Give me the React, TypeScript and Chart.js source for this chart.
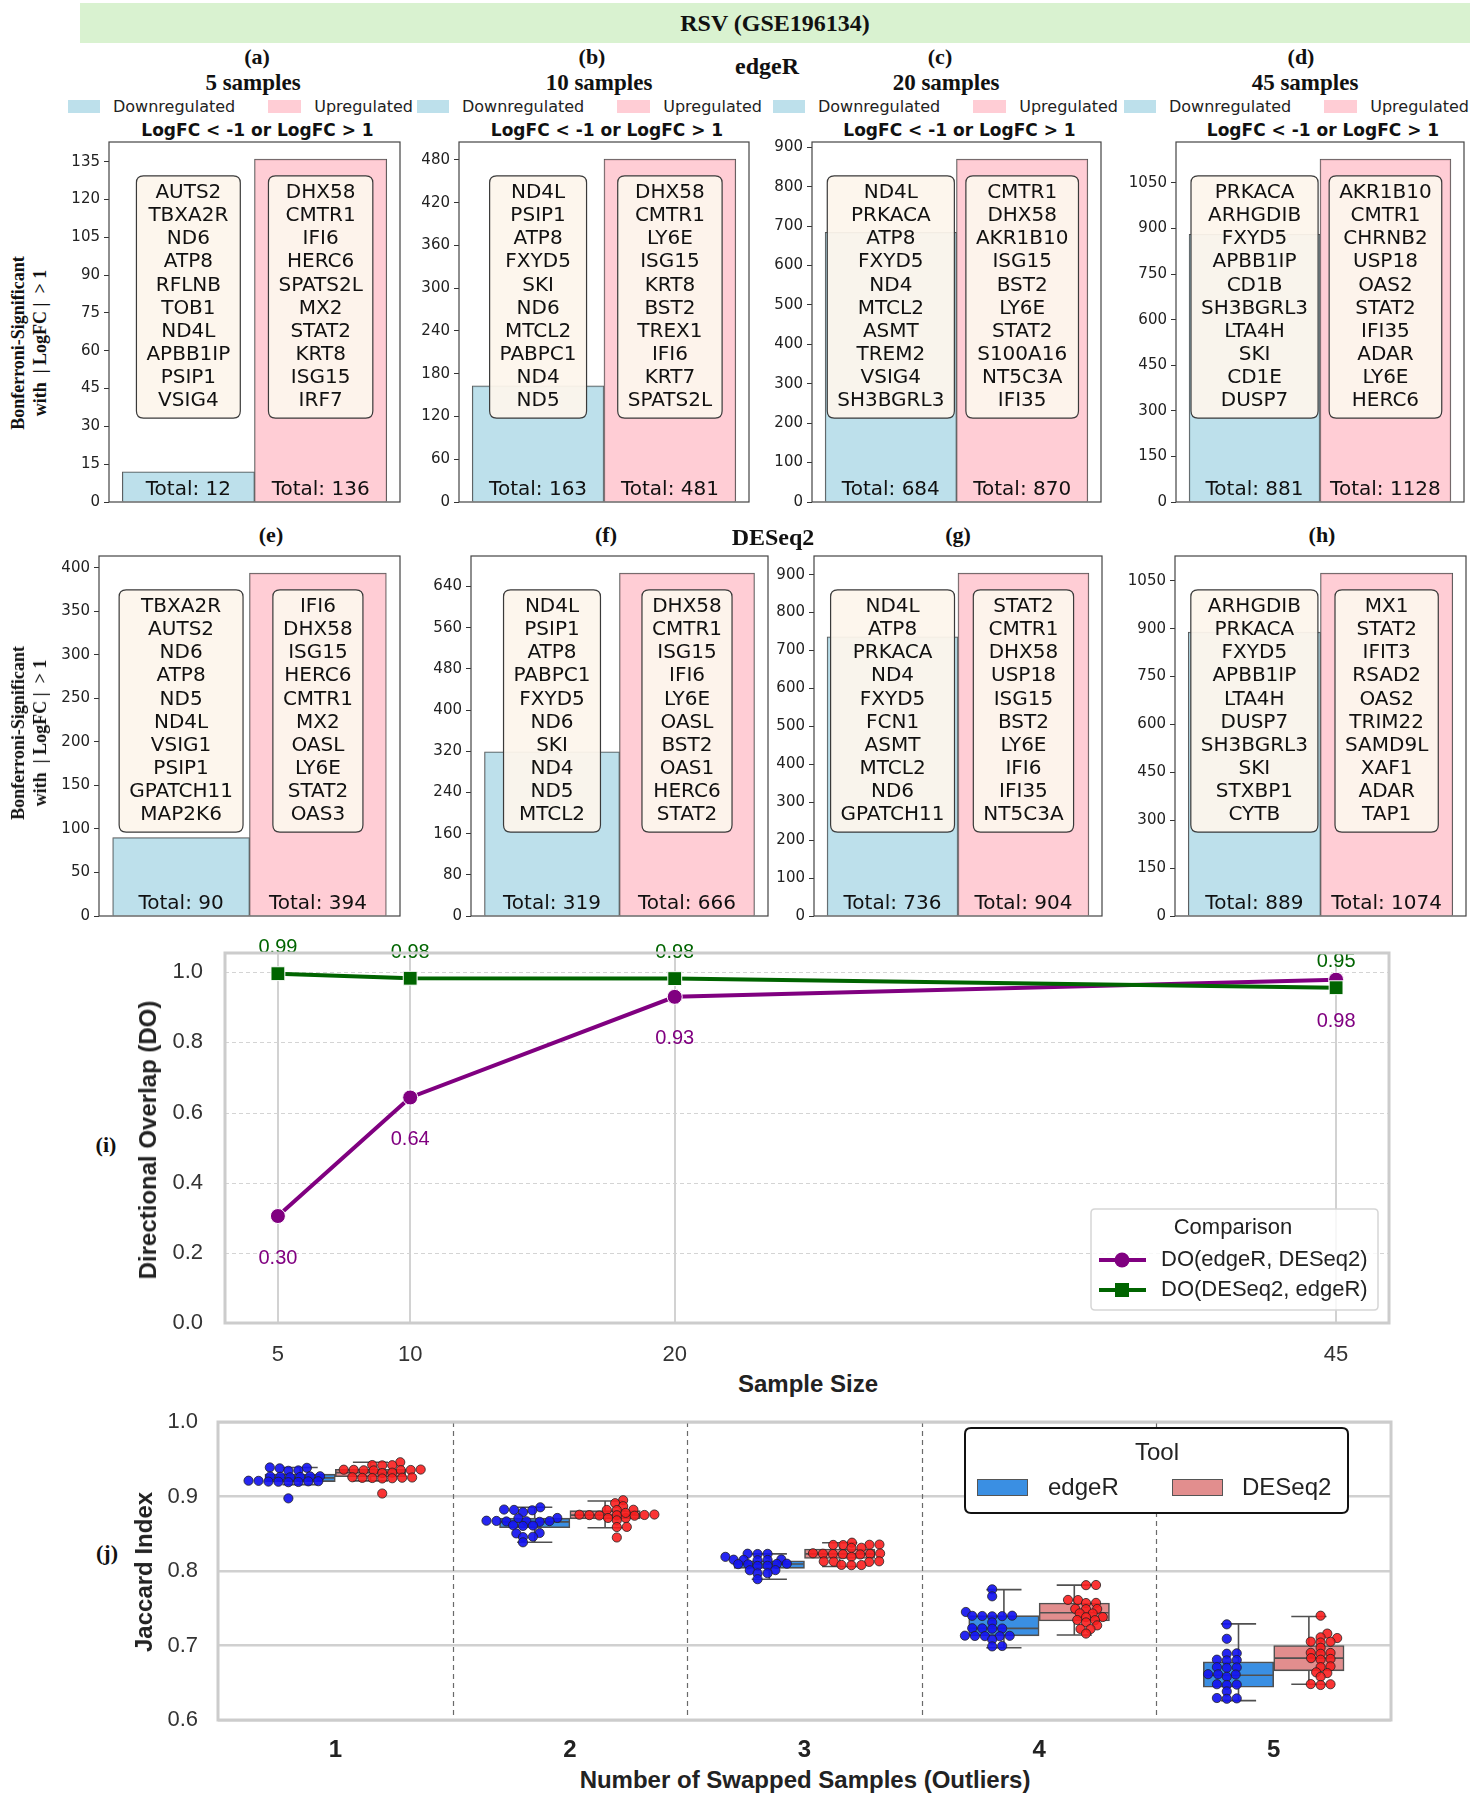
import React, { useEffect, useRef } from 'react';
import { Chart, registerables } from 'chart.js';

Chart.register(...registerables);

// ---------------- DATA: panels (a)-(h) ----------------
const panelLetters = ['(a)', '(b)', '(c)', '(d)', '(e)', '(f)', '(g)', '(h)'];
const sampleTitles = ['5 samples', '10 samples', '20 samples', '45 samples'];
const edgeRDownTotals = [12, 163, 684, 881];
const edgeRUpTotals = [136, 481, 870, 1128];
const deseq2DownTotals = [90, 319, 736, 889];
const deseq2UpTotals = [394, 666, 904, 1074];

const ticksA = [0, 15, 30, 45, 60, 75, 90, 105, 120, 135];
const ticksB = [0, 60, 120, 180, 240, 300, 360, 420, 480];
const ticksC = [0, 100, 200, 300, 400, 500, 600, 700, 800, 900];
const ticksD = [0, 150, 300, 450, 600, 750, 900, 1050];
const ticksE = [0, 50, 100, 150, 200, 250, 300, 350, 400];
const ticksF = [0, 80, 160, 240, 320, 400, 480, 560, 640];
const ticksG = [0, 100, 200, 300, 400, 500, 600, 700, 800, 900];
const ticksH = [0, 150, 300, 450, 600, 750, 900, 1050];

const downGenesA = ['AUTS2', 'TBXA2R', 'ND6', 'ATP8', 'RFLNB', 'TOB1', 'ND4L', 'APBB1IP', 'PSIP1', 'VSIG4'];
const upGenesA = ['DHX58', 'CMTR1', 'IFI6', 'HERC6', 'SPATS2L', 'MX2', 'STAT2', 'KRT8', 'ISG15', 'IRF7'];
const downGenesB = ['ND4L', 'PSIP1', 'ATP8', 'FXYD5', 'SKI', 'ND6', 'MTCL2', 'PABPC1', 'ND4', 'ND5'];
const upGenesB = ['DHX58', 'CMTR1', 'LY6E', 'ISG15', 'KRT8', 'BST2', 'TREX1', 'IFI6', 'KRT7', 'SPATS2L'];
const downGenesC = ['ND4L', 'PRKACA', 'ATP8', 'FXYD5', 'ND4', 'MTCL2', 'ASMT', 'TREM2', 'VSIG4', 'SH3BGRL3'];
const upGenesC = ['CMTR1', 'DHX58', 'AKR1B10', 'ISG15', 'BST2', 'LY6E', 'STAT2', 'S100A16', 'NT5C3A', 'IFI35'];
const downGenesD = ['PRKACA', 'ARHGDIB', 'FXYD5', 'APBB1IP', 'CD1B', 'SH3BGRL3', 'LTA4H', 'SKI', 'CD1E', 'DUSP7'];
const upGenesD = ['AKR1B10', 'CMTR1', 'CHRNB2', 'USP18', 'OAS2', 'STAT2', 'IFI35', 'ADAR', 'LY6E', 'HERC6'];
const downGenesE = ['TBXA2R', 'AUTS2', 'ND6', 'ATP8', 'ND5', 'ND4L', 'VSIG1', 'PSIP1', 'GPATCH11', 'MAP2K6'];
const upGenesE = ['IFI6', 'DHX58', 'ISG15', 'HERC6', 'CMTR1', 'MX2', 'OASL', 'LY6E', 'STAT2', 'OAS3'];
const downGenesF = ['ND4L', 'PSIP1', 'ATP8', 'PABPC1', 'FXYD5', 'ND6', 'SKI', 'ND4', 'ND5', 'MTCL2'];
const upGenesF = ['DHX58', 'CMTR1', 'ISG15', 'IFI6', 'LY6E', 'OASL', 'BST2', 'OAS1', 'HERC6', 'STAT2'];
const downGenesG = ['ND4L', 'ATP8', 'PRKACA', 'ND4', 'FXYD5', 'FCN1', 'ASMT', 'MTCL2', 'ND6', 'GPATCH11'];
const upGenesG = ['STAT2', 'CMTR1', 'DHX58', 'USP18', 'ISG15', 'BST2', 'LY6E', 'IFI6', 'IFI35', 'NT5C3A'];
const downGenesH = ['ARHGDIB', 'PRKACA', 'FXYD5', 'APBB1IP', 'LTA4H', 'DUSP7', 'SH3BGRL3', 'SKI', 'STXBP1', 'CYTB'];
const upGenesH = ['MX1', 'STAT2', 'IFIT3', 'RSAD2', 'OAS2', 'TRIM22', 'SAMD9L', 'XAF1', 'ADAR', 'TAP1'];

// ---------------- DATA: panel (i) ----------------
const sampleSizes = [5, 10, 20, 45];
const doEdgeRvsDESeq2 = [0.305, 0.643, 0.93, 0.979];
const doEdgeRvsDESeq2Labels = ['0.30', '0.64', '0.93', '0.98'];
const doDESeq2vsEdgeR = [0.996, 0.983, 0.982, 0.956];
const doDESeq2vsEdgeRLabels = ['0.99', '0.98', '0.98', '0.95'];
const doYTicks = [0, 0.2, 0.4, 0.6, 0.8, 1.0];
const doYTickLabels = ['0.0', '0.2', '0.4', '0.6', '0.8', '1.0'];

// ---------------- DATA: panel (j) ----------------
const swapCounts = [1, 2, 3, 4, 5];
const jacYTicks = [0.6, 0.7, 0.8, 0.9, 1.0];
const jacYTickLabels = ['0.6', '0.7', '0.8', '0.9', '1.0'];

const edgeRBoxLow = [0.916, 0.8385, 0.789, 0.697, 0.626];
const edgeRBoxQ1 = [0.92, 0.858, 0.8036, 0.713, 0.644];
const edgeRBoxMedian = [0.925, 0.866, 0.8094, 0.723, 0.66];
const edgeRBoxQ3 = [0.93, 0.871, 0.8138, 0.74, 0.678];
const edgeRBoxHigh = [0.939, 0.8855, 0.823, 0.775, 0.729];

const deseq2BoxLow = [0.921, 0.858, 0.806, 0.714, 0.648];
const deseq2BoxQ1 = [0.9266, 0.87, 0.8168, 0.733, 0.666];
const deseq2BoxMedian = [0.932, 0.875, 0.823, 0.744, 0.683];
const deseq2BoxQ3 = [0.9365, 0.881, 0.8295, 0.757, 0.7];
const deseq2BoxHigh = [0.946, 0.894, 0.838, 0.781, 0.739];

const edgeRJac1 = [0.9385, 0.939, 0.9378, 0.935, 0.9345, 0.9272, 0.9268, 0.9265, 0.9262, 0.927, 0.9258, 0.9212, 0.9205, 0.92, 0.9195, 0.9203, 0.921, 0.9198, 0.9192, 0.8975];
const edgeRJac2 = [0.8855, 0.882, 0.8825, 0.8815, 0.879, 0.8712, 0.8708, 0.867, 0.8668, 0.8672, 0.8665, 0.8675, 0.866, 0.861, 0.8615, 0.8605, 0.851, 0.8505, 0.846, 0.8455, 0.8385];
const edgeRJac3 = [0.823, 0.8232, 0.8228, 0.819, 0.815, 0.8152, 0.8148, 0.8155, 0.8145, 0.8095, 0.8092, 0.8098, 0.809, 0.807, 0.8068, 0.801, 0.8012, 0.797, 0.7968, 0.789];
const edgeRJac4 = [0.7754, 0.766, 0.745, 0.7396, 0.7398, 0.7394, 0.7392, 0.74, 0.731, 0.723, 0.7232, 0.7228, 0.7225, 0.7128, 0.713, 0.7126, 0.7132, 0.7124, 0.708, 0.6993, 0.6988];
const edgeRJac5 = [0.7284, 0.709, 0.689, 0.6895, 0.6805, 0.681, 0.68, 0.6705, 0.671, 0.67, 0.6613, 0.661, 0.6615, 0.658, 0.6475, 0.648, 0.647, 0.6383, 0.629, 0.6295, 0.6285];

const deseq2Jac1 = [0.946, 0.942, 0.9422, 0.9418, 0.9356, 0.936, 0.9355, 0.9362, 0.9352, 0.9358, 0.935, 0.932, 0.9315, 0.925, 0.9252, 0.9248, 0.9245, 0.9255, 0.9242, 0.9258, 0.904];
const deseq2Jac2 = [0.895, 0.891, 0.887, 0.882, 0.8822, 0.8818, 0.875, 0.8752, 0.8748, 0.8755, 0.8745, 0.8758, 0.8742, 0.871, 0.8712, 0.868, 0.859, 0.8592, 0.845, 0.878];
const deseq2Jac3 = [0.838, 0.835, 0.8352, 0.8348, 0.8355, 0.831, 0.8312, 0.823, 0.8232, 0.8228, 0.8235, 0.8225, 0.8238, 0.8222, 0.819, 0.8125, 0.8128, 0.8122, 0.813, 0.808, 0.8082, 0.8078];
const deseq2Jac4 = [0.781, 0.7812, 0.761, 0.7612, 0.757, 0.7572, 0.749, 0.7492, 0.7488, 0.743, 0.7432, 0.738, 0.7382, 0.734, 0.7342, 0.731, 0.727, 0.722, 0.7222, 0.716];
const deseq2Jac5 = [0.74, 0.716, 0.711, 0.71, 0.705, 0.7052, 0.704, 0.697, 0.69, 0.6902, 0.689, 0.683, 0.682, 0.681, 0.672, 0.671, 0.664, 0.663, 0.658, 0.648, 0.6482, 0.647];

const edgeRJaccard = [edgeRJac1, edgeRJac2, edgeRJac3, edgeRJac4, edgeRJac5];
const deseq2Jaccard = [deseq2Jac1, deseq2Jac2, deseq2Jac3, deseq2Jac4, deseq2Jac5];

// ---------------- LAYOUT / STYLE ----------------
type Rect = { l: number; t: number; r: number; b: number };
const SERIF = '"Liberation Serif", "Times New Roman", serif';
const SANS = '"Liberation Sans", Arial, sans-serif';
const DJV = '"DejaVu Sans", sans-serif';

const topAreas: Rect[] = [
  { l: 109, t: 142, r: 400, b: 502 },
  { l: 459, t: 142, r: 749, b: 502 },
  { l: 812, t: 142, r: 1101, b: 502 },
  { l: 1176, t: 142, r: 1464, b: 502 },
];
const bottomAreas: Rect[] = [
  { l: 99, t: 556, r: 400, b: 916 },
  { l: 471, t: 556, r: 768, b: 916 },
  { l: 814, t: 556, r: 1102, b: 916 },
  { l: 1175, t: 556, r: 1466, b: 916 },
];
const barMargin: Rect = { l: 56, t: 14, r: 8, b: 14 };
const doArea: Rect = { l: 225, t: 953, r: 1389, b: 1323 };
const doMargin: Rect = { l: 80, t: 30, r: 14, b: 45 };
const jacArea: Rect = { l: 218, t: 1422, r: 1391, b: 1720 };
const jacMargin: Rect = { l: 80, t: 20, r: 14, b: 45 };

const DOWN_FILL = 'rgba(173,216,230,0.8)';
const UP_FILL = 'rgba(255,192,203,0.8)';
const PURPLE = '#800080';
const GREEN = '#006400';
const EDGER_BOX = '#3a8fe3';
const DESEQ_BOX = '#e28e8e';

function rr(ctx: any, x: number, y: number, w: number, h: number, r: number) {
  ctx.beginPath();
  ctx.moveTo(x + r, y);
  ctx.lineTo(x + w - r, y);
  ctx.quadraticCurveTo(x + w, y, x + w, y + r);
  ctx.lineTo(x + w, y + h - r);
  ctx.quadraticCurveTo(x + w, y + h, x + w - r, y + h);
  ctx.lineTo(x + r, y + h);
  ctx.quadraticCurveTo(x, y + h, x, y + h - r);
  ctx.lineTo(x, y + r);
  ctx.quadraticCurveTo(x, y, x + r, y);
  ctx.closePath();
}

// beeswarm offsets (seaborn-like), computed in pixel space of the original (taller) figure
const JX = (jacArea.r - jacArea.l) / 5;
const JY = ((jacArea.b - jacArea.t) / 0.4) * 2;
function swarmX(vals: number[], center: number, d: number): number[] {
  const order = vals.map((_, i) => i).sort((a, b) => vals[a] - vals[b]);
  const placed: { x: number; y: number }[] = [];
  const out: number[] = new Array(vals.length);
  for (const i of order) {
    const y = vals[i] * JY;
    const nb = placed.filter((p) => Math.abs(p.y - y) < d);
    const cands = [0];
    nb.forEach((n) => {
      const dx = Math.sqrt(d * d - (n.y - y) * (n.y - y));
      cands.push(n.x + dx, n.x - dx);
    });
    cands.sort((a, b) => Math.abs(a) - Math.abs(b));
    let chosen = 0;
    for (const c of cands) {
      if (nb.every((n) => (n.x - c) * (n.x - c) + (n.y - y) * (n.y - y) >= d * d - 0.01)) {
        chosen = c;
        break;
      }
    }
    placed.push({ x: chosen, y });
    out[i] = center + chosen / JX;
  }
  return out;
}

function ChartBox({ area, margin, make }: { area: Rect; margin: Rect; make: (c: HTMLCanvasElement) => any }) {
  const ref = useRef<HTMLCanvasElement>(null);
  const w = area.r - area.l + margin.l + margin.r;
  const h = area.b - area.t + margin.t + margin.b;
  useEffect(() => {
    if (!ref.current) return;
    const ch = make(ref.current);
    return () => ch.destroy();
  }, []);
  return (
    <canvas
      ref={ref}
      width={w}
      height={h}
      style={{ position: 'absolute', left: area.l - margin.l, top: area.t - margin.t, width: w, height: h }}
    />
  );
}

function makeBarPanel(canvas: HTMLCanvasElement, down: number, up: number, ticks: number[], downGenes: string[], upGenes: string[]) {
  const vals = [down, up];
  const ymax = Math.max(down, up) * 1.05;
  const overlay = {
    id: 'geneOverlay',
    afterDatasetsDraw(chart: any) {
      const { ctx, chartArea: a } = chart;
      const xs = chart.scales.x;
      const h = a.bottom - a.top;
      const bt = a.top + 0.094 * h;
      const bb = a.top + 0.767 * h;
      const bh = bb - bt;
      ctx.save();
      ctx.font = `20px ${DJV}`;
      ctx.textAlign = 'center';
      ctx.textBaseline = 'middle';
      [downGenes, upGenes].forEach((genes, i) => {
        const cx = xs.getPixelForValue(i);
        let tw = 0;
        genes.forEach((g) => (tw = Math.max(tw, ctx.measureText(g).width)));
        const bw = tw + 20;
        rr(ctx, cx - bw / 2, bt, bw, bh, 7);
        ctx.fillStyle = 'rgba(253,245,236,0.94)';
        ctx.fill();
        ctx.lineWidth = 1.2;
        ctx.strokeStyle = '#3a3a3a';
        ctx.stroke();
        ctx.fillStyle = '#111';
        genes.forEach((g, k) => ctx.fillText(g, cx, bt + (bh * (17 + 23.1 * k)) / 242));
        ctx.fillText('Total: ' + vals[i], cx, a.bottom - 12);
      });
      ctx.strokeStyle = '#444';
      ctx.lineWidth = 1.2;
      ctx.strokeRect(a.left, a.top, a.right - a.left, a.bottom - a.top);
      ctx.restore();
    },
  };
  return new Chart(canvas, {
    type: 'bar',
    data: {
      datasets: [
        {
          data: [
            { x: 0, y: down },
            { x: 1, y: up },
          ],
          backgroundColor: [DOWN_FILL, UP_FILL],
          borderColor: '#555',
          borderWidth: 1,
          barPercentage: 1,
          categoryPercentage: 1,
        } as any,
      ],
    },
    options: {
      responsive: false,
      animation: false,
      layout: { padding: { top: barMargin.t, right: barMargin.r, bottom: barMargin.b, left: 0 } },
      plugins: { legend: { display: false }, tooltip: { enabled: false } },
      scales: {
        x: {
          type: 'linear',
          min: -0.6,
          max: 1.6,
          display: false,
          offset: false,
          afterBuildTicks: (s: any) => {
            s.ticks = [{ value: 0 }, { value: 1 }];
          },
        },
        y: {
          type: 'linear',
          min: 0,
          max: ymax,
          afterBuildTicks: (s: any) => {
            s.ticks = ticks.map((v) => ({ value: v }));
          },
          afterFit: (s: any) => {
            s.width = barMargin.l;
          },
          ticks: { callback: (v: any) => String(v), font: { family: DJV, size: 15 }, color: '#222', padding: 4, autoSkip: false },
          grid: { display: true, drawOnChartArea: false, drawTicks: true, tickLength: 5, tickColor: '#333', tickWidth: 1 },
          border: { display: false },
        },
      },
    } as any,
    plugins: [overlay],
  });
}

function makeDOChart(canvas: HTMLCanvasElement) {
  const dashGrid = {
    id: 'dashGrid',
    beforeDatasetsDraw(chart: any) {
      const { ctx, chartArea: a } = chart;
      const ys = chart.scales.y;
      ctx.save();
      ctx.strokeStyle = '#d4d4d4';
      ctx.lineWidth = 1;
      ctx.setLineDash([4, 3]);
      doYTicks.forEach((v) => {
        const y = Math.round(ys.getPixelForValue(v)) + 0.5;
        ctx.beginPath();
        ctx.moveTo(a.left, y);
        ctx.lineTo(a.right, y);
        ctx.stroke();
      });
      ctx.restore();
    },
  };
  const labels = {
    id: 'pointLabels',
    afterDatasetsDraw(chart: any) {
      const ctx = chart.ctx;
      ctx.save();
      ctx.font = `20px ${SANS}`;
      ctx.textAlign = 'center';
      ctx.textBaseline = 'middle';
      chart.data.datasets.forEach((ds: any, di: number) => {
        const meta = chart.getDatasetMeta(di);
        meta.data.forEach((pt: any, i: number) => {
          ctx.fillStyle = ds.borderColor;
          ctx.fillText(ds.pointLabels[i], pt.x, pt.y + ds.labelOffset);
        });
      });
      ctx.restore();
    },
    afterDraw(chart: any) {
      const { ctx, chartArea: a } = chart;
      ctx.save();
      ctx.strokeStyle = '#cccccc';
      ctx.lineWidth = 3;
      ctx.strokeRect(a.left, a.top, a.right - a.left, a.bottom - a.top);
      // legend
      const L = a.right - 298;
      const T = a.bottom - 114;
      rr(ctx, L, T, 287, 101, 4);
      ctx.fillStyle = 'rgba(255,255,255,0.82)';
      ctx.fill();
      ctx.strokeStyle = '#d6d6d6';
      ctx.lineWidth = 1.5;
      ctx.stroke();
      ctx.font = `22px ${SANS}`;
      ctx.fillStyle = '#222';
      ctx.textAlign = 'center';
      ctx.textBaseline = 'middle';
      ctx.fillText('Comparison', L + 142, T + 19);
      const rows = [
        { c: PURPLE, s: 'circle', t: 'DO(edgeR, DESeq2)' },
        { c: GREEN, s: 'rect', t: 'DO(DESeq2, edgeR)' },
      ];
      rows.forEach((r, k) => {
        const y = T + 51 + k * 30;
        ctx.strokeStyle = r.c;
        ctx.lineWidth = 4;
        ctx.beginPath();
        ctx.moveTo(L + 8, y);
        ctx.lineTo(L + 55, y);
        ctx.stroke();
        ctx.fillStyle = r.c;
        if (r.s === 'circle') {
          ctx.beginPath();
          ctx.arc(L + 31, y, 7.5, 0, Math.PI * 2);
          ctx.fill();
        } else {
          ctx.fillRect(L + 24, y - 7, 14, 14);
        }
        ctx.fillStyle = '#222';
        ctx.textAlign = 'left';
        ctx.fillText(r.t, L + 70, y);
      });
      ctx.restore();
    },
  };
  return new Chart(canvas, {
    type: 'line',
    data: {
      datasets: [
        {
          label: 'DO(DESeq2, edgeR)',
          data: sampleSizes.map((x, i) => ({ x, y: doDESeq2vsEdgeR[i] })),
          borderColor: GREEN,
          backgroundColor: GREEN,
          borderWidth: 4,
          pointStyle: 'rect',
          pointRadius: 9.8,
          pointBorderColor: '#ffffff',
          pointBorderWidth: 1,
          order: 0,
          pointLabels: doDESeq2vsEdgeRLabels,
          labelOffset: -26,
        } as any,
        {
          label: 'DO(edgeR, DESeq2)',
          data: sampleSizes.map((x, i) => ({ x, y: doEdgeRvsDESeq2[i] })),
          borderColor: PURPLE,
          backgroundColor: PURPLE,
          borderWidth: 4,
          pointStyle: 'circle',
          pointRadius: 7.5,
          pointBorderColor: '#ffffff',
          pointBorderWidth: 1,
          order: 1,
          pointLabels: doEdgeRvsDESeq2Labels,
          labelOffset: 42,
        } as any,
      ],
    },
    options: {
      responsive: false,
      animation: false,
      layout: { padding: { top: doMargin.t, right: doMargin.r, bottom: 0, left: 0 } },
      plugins: { legend: { display: false }, tooltip: { enabled: false } },
      scales: {
        x: {
          type: 'linear',
          min: 3,
          max: 47,
          offset: false,
          afterBuildTicks: (s: any) => {
            s.ticks = sampleSizes.map((v) => ({ value: v }));
          },
          afterFit: (s: any) => {
            s.height = doMargin.b;
          },
          ticks: { callback: (v: any) => String(v), font: { family: SANS, size: 22 }, color: '#333', padding: 3, maxRotation: 0, autoSkip: false },
          grid: { display: true, drawOnChartArea: true, color: '#d2d2d2', lineWidth: 2, drawTicks: true, tickLength: 16, tickColor: 'rgba(0,0,0,0)', offset: false },
          border: { display: false },
        },
        y: {
          type: 'linear',
          min: 0,
          max: 1.055,
          afterBuildTicks: (s: any) => {
            s.ticks = doYTicks.map((v) => ({ value: v }));
          },
          afterFit: (s: any) => {
            s.width = doMargin.l;
          },
          ticks: { callback: (_v: any, i: number) => doYTickLabels[i], font: { family: SANS, size: 22 }, color: '#333', padding: 3, autoSkip: false },
          grid: { display: true, drawOnChartArea: false, drawTicks: true, tickLength: 19, tickColor: 'rgba(0,0,0,0)' },
          border: { display: false },
        },
      },
    } as any,
    plugins: [dashGrid, labels],
  });
}

function whiskerData(center: number[], lo: number[], q1: number[], med: number[], q3: number[], hi: number[]) {
  const out: any[] = [];
  center.forEach((c, i) => {
    const gap = { x: c, y: null };
    out.push({ x: c, y: q3[i] }, { x: c, y: hi[i] }, gap);
    out.push({ x: c - 0.075, y: hi[i] }, { x: c + 0.075, y: hi[i] }, gap);
    out.push({ x: c, y: q1[i] }, { x: c, y: lo[i] }, gap);
    out.push({ x: c - 0.075, y: lo[i] }, { x: c + 0.075, y: lo[i] }, gap);
    out.push({ x: c - 0.147, y: med[i] }, { x: c + 0.147, y: med[i] }, gap);
  });
  return out;
}

function makeJaccardChart(canvas: HTMLCanvasElement) {
  const edgeRCenters = swapCounts.map((c) => c - 0.15);
  const deseqCenters = swapCounts.map((c) => c + 0.15);
  const edgeRPts: any[] = [];
  const deseqPts: any[] = [];
  swapCounts.forEach((c, g) => {
    const ex = swarmX(edgeRJaccard[g], c - 0.2, 10);
    edgeRJaccard[g].forEach((v, i) => edgeRPts.push({ x: ex[i], y: v }));
    const dx = swarmX(deseq2Jaccard[g], c + 0.2, 10);
    deseq2Jaccard[g].forEach((v, i) => deseqPts.push({ x: dx[i], y: v }));
  });
  const deco = {
    id: 'jacDeco',
    beforeDatasetsDraw(chart: any) {
      const { ctx, chartArea: a } = chart;
      const xs = chart.scales.x;
      ctx.save();
      ctx.strokeStyle = '#6a6a6a';
      ctx.lineWidth = 1.2;
      ctx.setLineDash([5, 4]);
      for (let i = 0; i < swapCounts.length - 1; i++) {
        const x = Math.round(xs.getPixelForValue((swapCounts[i] + swapCounts[i + 1]) / 2)) + 0.5;
        ctx.beginPath();
        ctx.moveTo(x, a.top);
        ctx.lineTo(x, a.bottom);
        ctx.stroke();
      }
      ctx.restore();
    },
    afterDraw(chart: any) {
      const { ctx, chartArea: a } = chart;
      ctx.save();
      ctx.strokeStyle = '#cccccc';
      ctx.lineWidth = 3;
      ctx.strokeRect(a.left, a.top, a.right - a.left, a.bottom - a.top);
      const L = a.right - 426;
      const T = a.top + 6;
      rr(ctx, L, T, 383, 85, 6);
      ctx.fillStyle = '#ffffff';
      ctx.fill();
      ctx.strokeStyle = '#111';
      ctx.lineWidth = 2;
      ctx.stroke();
      ctx.font = `24px ${SANS}`;
      ctx.fillStyle = '#222';
      ctx.textAlign = 'center';
      ctx.textBaseline = 'middle';
      ctx.fillText('Tool', L + 192, T + 25);
      const items = [
        { c: EDGER_BOX, t: 'edgeR', px: 12, tx: 83 },
        { c: DESEQ_BOX, t: 'DESeq2', px: 207, tx: 277 },
      ];
      items.forEach((it) => {
        ctx.fillStyle = it.c;
        ctx.fillRect(L + it.px, T + 51, 51, 17);
        ctx.strokeStyle = '#555';
        ctx.lineWidth = 1;
        ctx.strokeRect(L + it.px + 0.5, T + 51.5, 50, 16);
        ctx.fillStyle = '#222';
        ctx.textAlign = 'left';
        ctx.fillText(it.t, L + it.tx, T + 60);
      });
      ctx.restore();
    },
  };
  return new Chart(canvas, {
    type: 'bar',
    data: {
      datasets: [
        {
          type: 'scatter',
          data: edgeRPts,
          backgroundColor: 'rgba(20,20,240,0.92)',
          borderColor: '#222',
          pointRadius: 4.6,
          pointBorderWidth: 0.8,
          order: 0,
        },
        {
          type: 'scatter',
          data: deseqPts,
          backgroundColor: 'rgba(250,30,30,0.9)',
          borderColor: '#222',
          pointRadius: 4.6,
          pointBorderWidth: 0.8,
          order: 0,
        },
        {
          type: 'line',
          data: whiskerData(edgeRCenters, edgeRBoxLow, edgeRBoxQ1, edgeRBoxMedian, edgeRBoxQ3, edgeRBoxHigh),
          borderColor: '#505050',
          borderWidth: 1.6,
          pointRadius: 0,
          spanGaps: false,
          fill: false,
          order: 1,
        },
        {
          type: 'line',
          data: whiskerData(deseqCenters, deseq2BoxLow, deseq2BoxQ1, deseq2BoxMedian, deseq2BoxQ3, deseq2BoxHigh),
          borderColor: '#505050',
          borderWidth: 1.6,
          pointRadius: 0,
          spanGaps: false,
          fill: false,
          order: 1,
        },
        {
          type: 'bar',
          data: edgeRCenters.map((x, i) => ({ x, y: [edgeRBoxQ1[i], edgeRBoxQ3[i]] })),
          backgroundColor: EDGER_BOX,
          borderColor: '#505050',
          borderWidth: 1.6,
          borderSkipped: false,
          grouped: false,
          barPercentage: 1,
          categoryPercentage: 1,
          order: 2,
        },
        {
          type: 'bar',
          data: deseqCenters.map((x, i) => ({ x, y: [deseq2BoxQ1[i], deseq2BoxQ3[i]] })),
          backgroundColor: DESEQ_BOX,
          borderColor: '#505050',
          borderWidth: 1.6,
          borderSkipped: false,
          grouped: false,
          barPercentage: 1,
          categoryPercentage: 1,
          order: 2,
        },
      ] as any,
    },
    options: {
      responsive: false,
      animation: false,
      layout: { padding: { top: jacMargin.t, right: jacMargin.r, bottom: 0, left: 0 } },
      plugins: { legend: { display: false }, tooltip: { enabled: false } },
      scales: {
        x: {
          type: 'linear',
          min: 0.5,
          max: 5.5,
          offset: false,
          afterBuildTicks: (s: any) => {
            s.ticks = swapCounts.map((v) => ({ value: v }));
          },
          afterFit: (s: any) => {
            s.height = jacMargin.b;
          },
          ticks: { callback: (v: any) => String(v), font: { family: SANS, size: 24, weight: 'bold' }, color: '#222', padding: 3, maxRotation: 0, autoSkip: false },
          grid: { display: true, drawOnChartArea: false, drawTicks: true, tickLength: 13, tickColor: 'rgba(0,0,0,0)', offset: false },
          border: { display: false },
        },
        y: {
          type: 'linear',
          min: 0.6,
          max: 1.0,
          afterBuildTicks: (s: any) => {
            s.ticks = jacYTicks.map((v) => ({ value: v }));
          },
          afterFit: (s: any) => {
            s.width = jacMargin.l;
          },
          ticks: { callback: (_v: any, i: number) => jacYTickLabels[i], font: { family: SANS, size: 22 }, color: '#333', padding: 3, autoSkip: false },
          grid: { display: true, drawOnChartArea: true, color: '#d0d0d0', lineWidth: 2.5, drawTicks: true, tickLength: 17, tickColor: 'rgba(0,0,0,0)' },
          border: { display: false },
        },
      },
    } as any,
    plugins: [deco],
  });
}

function Txt(props: { x: number; y: number; text: string; size: number; family?: string; weight?: any; rotate?: boolean; color?: string; lh?: number }) {
  const { x, y, text, size, family = SERIF, weight = 'bold', rotate = false, color = '#111', lh } = props;
  return (
    <div
      style={{
        position: 'absolute',
        left: x,
        top: y,
        transform: `translate(-50%, -50%)${rotate ? ' rotate(-90deg)' : ''}`,
        fontFamily: family,
        fontSize: size,
        fontWeight: weight,
        whiteSpace: 'pre',
        lineHeight: lh ? `${lh}px` : 'normal',
        color,
        textAlign: 'center',
      }}
    >
      {text}
    </div>
  );
}

function BarLegend({ left }: { left: number }) {
  return (
    <div style={{ position: 'absolute', left, top: 100, height: 13, display: 'flex', alignItems: 'center', fontFamily: DJV, fontSize: 16, color: '#222', whiteSpace: 'nowrap' }}>
      <span style={{ display: 'inline-block', width: 32, height: 13, background: DOWN_FILL }} />
      <span style={{ marginLeft: 13, lineHeight: '13px' }}>Downregulated</span>
      <span style={{ display: 'inline-block', width: 33, height: 13, marginLeft: 33, background: UP_FILL }} />
      <span style={{ marginLeft: 13, lineHeight: '13px' }}>Upregulated</span>
    </div>
  );
}

export default function App() {
  const topTicks = [ticksA, ticksB, ticksC, ticksD];
  const botTicks = [ticksE, ticksF, ticksG, ticksH];
  const topDown = [downGenesA, downGenesB, downGenesC, downGenesD];
  const topUp = [upGenesA, upGenesB, upGenesC, upGenesD];
  const botDown = [downGenesE, downGenesF, downGenesG, downGenesH];
  const botUp = [upGenesE, upGenesF, upGenesG, upGenesH];
  const topLetterX = [257, 592, 940, 1301];
  const topSampleX = [253, 599, 946, 1305];
  const botLetterX = [271, 606, 958, 1322];
  const legendLeft = [68, 417, 773, 1124];

  return (
    <div style={{ position: 'absolute', left: 0, top: 0, width: 1483, height: 1804, background: '#fff', overflow: 'hidden' }}>
      <div
        style={{
          position: 'absolute',
          left: 80,
          top: 3,
          width: 1390,
          height: 40,
          background: '#d9f2d0',
          fontFamily: SERIF,
          fontWeight: 'bold',
          fontSize: 24,
          lineHeight: '40px',
          textAlign: 'center',
          color: '#111',
        }}
      >
        RSV (GSE196134)
      </div>

      {topAreas.map((a, i) => (
        <React.Fragment key={'t' + i}>
          <Txt x={topLetterX[i]} y={57} text={panelLetters[i]} size={22} />
          <Txt x={topSampleX[i]} y={83} text={sampleTitles[i]} size={23} />
          <BarLegend left={legendLeft[i]} />
          <Txt x={(a.l + a.r) / 2 + 3} y={130} text="LogFC < -1 or LogFC > 1" size={17} family={DJV} />
          <ChartBox area={a} margin={barMargin} make={(c) => makeBarPanel(c, edgeRDownTotals[i], edgeRUpTotals[i], topTicks[i], topDown[i], topUp[i])} />
        </React.Fragment>
      ))}
      <Txt x={767} y={66} text="edgeR" size={24} />

      {bottomAreas.map((a, i) => (
        <React.Fragment key={'b' + i}>
          <Txt x={botLetterX[i]} y={535} text={panelLetters[i + 4]} size={22} />
          <ChartBox area={a} margin={barMargin} make={(c) => makeBarPanel(c, deseq2DownTotals[i], deseq2UpTotals[i], botTicks[i], botDown[i], botUp[i])} />
        </React.Fragment>
      ))}
      <Txt x={773} y={537} text="DESeq2" size={24} />

      <Txt x={29} y={343} text={'Bonferroni-Significant\nwith  | LogFC |  > 1'} size={18} rotate lh={22} />
      <Txt x={29} y={733} text={'Bonferroni-Significant\nwith  | LogFC |  > 1'} size={18} rotate lh={22} />

      <ChartBox area={doArea} margin={doMargin} make={(c) => makeDOChart(c)} />
      <Txt x={106} y={1145} text="(i)" size={22} />
      <Txt x={148} y={1140} text="Directional Overlap (DO)" size={24} family={SANS} rotate color="#222" />
      <Txt x={808} y={1384} text="Sample Size" size={24} family={SANS} color="#222" />

      <ChartBox area={jacArea} margin={jacMargin} make={(c) => makeJaccardChart(c)} />
      <Txt x={107} y={1553} text="(j)" size={22} />
      <Txt x={144} y={1572} text="Jaccard Index" size={24} family={SANS} rotate color="#222" />
      <Txt x={805} y={1780} text="Number of Swapped Samples (Outliers)" size={24} family={SANS} color="#222" />
    </div>
  );
}
